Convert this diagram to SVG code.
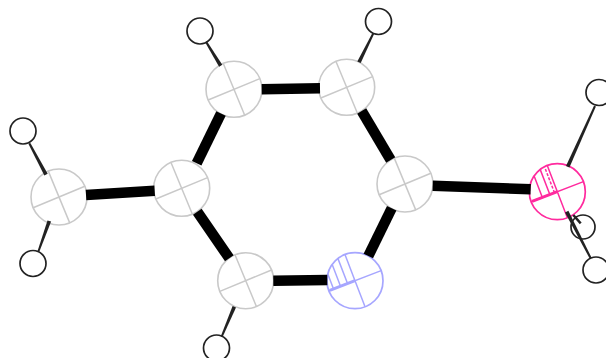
<svg xmlns="http://www.w3.org/2000/svg" width="606" height="358" viewBox="0 0 606 358">
<style>
.c{fill:#fff;stroke:#c9c9c9;stroke-width:1.6}
.x{fill:none;stroke:#c9c9c9;stroke-width:1.5}
.h{fill:#fff;stroke:#222;stroke-width:1.7}
.b{stroke:#000;stroke-width:10.500;fill:none}
.t{fill:#222;stroke:none}
.s{stroke:#222;stroke-width:2.500;fill:none}
.n{fill:#fff;stroke:#a6a6ff;stroke-width:1.7}
.nl{fill:none;stroke:#a6a6ff;stroke-width:1.5}
.o{fill:#fff;stroke:#ff2a9e;stroke-width:1.7}
.ol{fill:none;stroke:#ff2a9e;stroke-width:1.5}
.w{stroke-width:3}
.d{stroke-dasharray:3 1.500}
</style>
<defs>
<g id="cross"><path class="x" d="M-28 0H28M0 -28V28" transform="rotate(-22.5)"/></g>
</defs>
<rect width="606" height="358" fill="#fff"/>
<g id="H1"><circle class="h" cx="200" cy="31" r="13"/></g>
<g id="H2"><circle class="h" cx="378.500" cy="21.500" r="13"/></g>
<g id="H3"><circle class="h" cx="23" cy="131" r="13"/></g>
<g id="H4"><circle class="h" cx="33" cy="263.500" r="13"/></g>
<g id="H5"><circle class="h" cx="216.500" cy="348" r="13"/></g>
<g id="H6"><circle class="h" cx="599" cy="92.500" r="13"/></g>
<g id="H8"><circle class="h" cx="583" cy="227" r="12"/></g>
<g id="H7"><circle class="h" cx="596" cy="270" r="13"/></g>
<g id="C1" transform="translate(59 197)"><circle class="c" r="28"/><use href="#cross"/></g>
<g id="C2" transform="translate(181.700 188.300)"><circle class="c" r="28"/><use href="#cross"/></g>
<g id="C3" transform="translate(245.700 280.700)"><circle class="c" r="28"/><use href="#cross"/></g>
<g id="C4" transform="translate(234 89.300)"><circle class="c" r="28"/><use href="#cross"/></g>
<g id="C5" transform="translate(346.700 87.300)"><circle class="c" r="28"/><use href="#cross"/></g>
<g id="C6" transform="translate(405 184)"><circle class="c" r="28"/><use href="#cross"/></g>
<g id="N1" transform="translate(355 280.700)">
<circle class="n" r="28"/>
<g transform="rotate(-21)">
<path class="nl" d="M-28 0H28M0 0V28"/>
<path class="nl w" d="M-27 0H0"/>
<path class="nl" d="M-23 0V-16M-15.500 0V-23M-8 0V-27M0 0V-28"/>
</g>
</g>
<g id="O1" transform="translate(557.300 191.700)">
<circle class="o" r="28"/>
<g transform="rotate(-21)">
<path class="ol" d="M-28 0H28M0 -28V28"/>
<path class="ol w" d="M-27 0H0"/>
<path class="ol" d="M-16 0V-23M-8 0V-27"/>
<path class="ol d" d="M-3 0V-27"/>
</g>
</g>
<g id="connectors">
<path class="b" d="M86 195L154.700 190.700"/>
<path class="b" d="M196.700 163.300L221 113.500"/>
<path class="b" d="M197.300 211.700L229.300 258.300"/>
<path class="b" d="M261.700 89.300L320 88.300"/>
<path class="b" d="M361.700 111L390.700 160"/>
<path class="b" d="M391.700 208.300L368.300 256"/>
<path class="b" d="M273.300 280.700L327.300 280"/>
<path class="b" d="M432.700 185.700L530.700 189.300"/>
<polygon class="t" points="206.900,41.200 205.100,42.200 219.100,66.700 222.300,64.700"/>
<polygon class="t" points="374.200,33.700 372.400,32.900 357.300,61.500 360.700,63.100"/>
<polygon class="t" points="30.200,142.800 28.400,143.800 44.300,175.600 47.700,173.800"/>
<polygon class="t" points="39.200,252 37.400,251.400 47.500,220.400 51.100,221.600"/>
<polygon class="t" points="222.600,337.100 220.800,336.300 232.600,306 236,307.400"/>
<polygon class="t" points="595.900,106.400 594.100,105.600 566,165.900 569.400,167.500"/>
<polygon class="t" points="591.600,257.800 589.800,258.800 565,212.600 568.400,210.800"/>
<path class="s" d="M573.300 215L580.700 223.300"/>
</g>
</svg>
